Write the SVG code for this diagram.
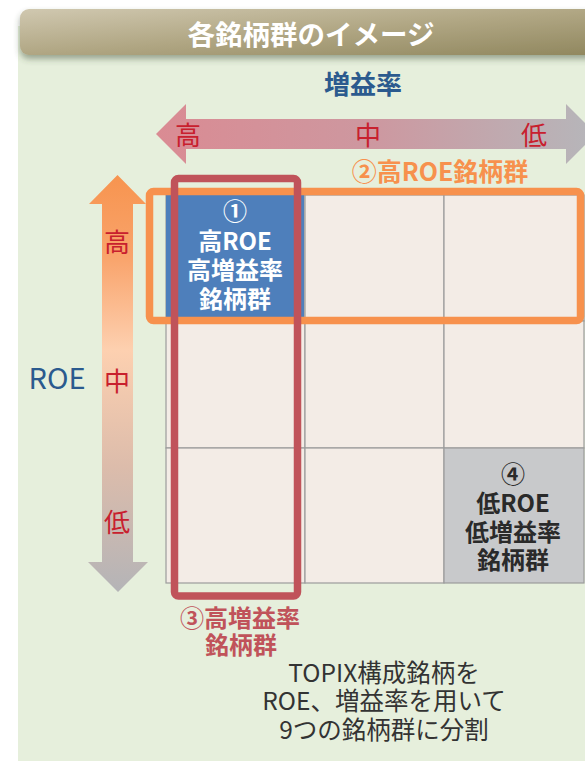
<svg xmlns="http://www.w3.org/2000/svg" width="585" height="761" viewBox="0 0 585 761">
<defs>
<linearGradient id="hdr" x1="0" y1="0" x2="1" y2="1">
<stop offset="0" stop-color="#d0c8b0"/>
<stop offset="0.5" stop-color="#b0a683"/>
<stop offset="1" stop-color="#8f865d"/>
</linearGradient>
<linearGradient id="hArrow" x1="156" y1="0" x2="592" y2="0" gradientUnits="userSpaceOnUse">
<stop offset="0" stop-color="#da8b93"/>
<stop offset="0.5" stop-color="#cd98a0"/>
<stop offset="1" stop-color="#b6b6ba"/>
</linearGradient>
<linearGradient id="vArrow" x1="0" y1="175" x2="0" y2="592" gradientUnits="userSpaceOnUse">
<stop offset="0" stop-color="#f7944f"/>
<stop offset="0.2" stop-color="#f9a46c"/>
<stop offset="0.42" stop-color="#fdd0b0"/>
<stop offset="0.7" stop-color="#dcbcab"/>
<stop offset="1" stop-color="#b4b4b7"/>
</linearGradient>
<filter id="shadow" x="-5%" y="-30%" width="110%" height="180%">
<feDropShadow dx="0" dy="4" stdDeviation="3" flood-color="#3a4a30" flood-opacity="0.45"/>
</filter>
</defs>
<style>
text{font-family:"Noto Sans CJK JP","Noto Sans",sans-serif;text-anchor:middle;dominant-baseline:central}
.title{fill:#ffffff;font-size:27.5px;font-weight:bold}
.axisT{fill:#2b5a8e;font-size:26px;font-weight:bold}
.lvl{fill:#c8202e;font-size:26px}
.cell{fill:#f3ece6;stroke:#9c9c9c;stroke-width:1.2}
.wt{fill:#ffffff;font-size:24px;font-weight:bold}
.dk{fill:#2a2a2a;font-size:24px;font-weight:bold}
.or{fill:#f7914d;font-size:25px;font-weight:bold}
.rd{fill:#c0535a;font-size:24px;font-weight:bold}
.note{fill:#333333;font-size:24.5px}
</style>
<rect x="0" y="0" width="585" height="761" fill="#ffffff"/>
<rect x="18" y="26" width="567" height="735" fill="#e6efdc"/>
<g id="header">
<rect x="20" y="9" width="600" height="46" rx="9" fill="url(#hdr)" filter="url(#shadow)"/>
<text class="title" x="311" y="33">各銘柄群のイメージ</text>
</g>
<g id="axes">
<text class="axisT" x="363" y="82">増益率</text>
<polygon points="156,134 186,104 186,119 566,119 566,104 596,134 566,164 566,149 186,149 186,164" fill="url(#hArrow)"/>
<text class="lvl" x="188" y="133">高</text>
<text class="lvl" x="368" y="133">中</text>
<text class="lvl" x="534" y="133">低</text>
<text class="axisT" x="57" y="376" style="font-weight:normal;font-size:29px">ROE</text>
<polygon points="117.5,175 146,204 133,204 133,562 148,562 118,592 88,562 102,562 102,204 89,204" fill="url(#vArrow)"/>
<text class="lvl" x="117" y="240">高</text>
<text class="lvl" x="117" y="379">中</text>
<text class="lvl" x="117" y="520">低</text>
</g>
<g id="grid">
<rect class="cell" x="166" y="195" width="139" height="126"/>
<rect class="cell" x="305" y="195" width="139" height="126"/>
<rect class="cell" x="444" y="195" width="140" height="126"/>
<rect class="cell" x="166" y="321" width="139" height="127"/>
<rect class="cell" x="305" y="321" width="139" height="127"/>
<rect class="cell" x="444" y="321" width="140" height="127"/>
<rect class="cell" x="166" y="448" width="139" height="135"/>
<rect class="cell" x="305" y="448" width="139" height="135"/>
</g>
<g id="group1">
<rect x="166" y="195" width="138" height="125" fill="#4e7fbb"/>
<text class="wt" x="235" y="209">①</text>
<text class="wt" x="235" y="239">高ROE</text>
<text class="wt" x="235" y="268">高増益率</text>
<text class="wt" x="235" y="297">銘柄群</text>
</g>
<g id="group4">
<rect x="444" y="448" width="140" height="135" fill="#c8c9cb" stroke="#9c9c9c" stroke-width="1.2"/>
<text class="dk" x="513" y="472">④</text>
<text class="dk" x="513" y="501">低ROE</text>
<text class="dk" x="513" y="530">低増益率</text>
<text class="dk" x="513" y="558">銘柄群</text>
</g>
<g id="group2">
<rect x="149.5" y="191.5" width="431" height="129" rx="4" fill="none" stroke="#f7914d" stroke-width="7.5"/>
<text class="or" x="440" y="170">②高ROE銘柄群</text>
</g>
<g id="group3">
<rect x="174.5" y="178.5" width="123" height="417.5" rx="4" fill="none" stroke="#c0535a" stroke-width="7.5"/>
<text class="rd" x="240" y="616">③高増益率</text>
<text class="rd" x="241" y="643">銘柄群</text>
</g>
<g id="note">
<text class="note" x="384" y="671">TOPIX構成銘柄を</text>
<text class="note" x="384" y="699">ROE、増益率を用いて</text>
<text class="note" x="384" y="728">9つの銘柄群に分割</text>
</g>
</svg>
